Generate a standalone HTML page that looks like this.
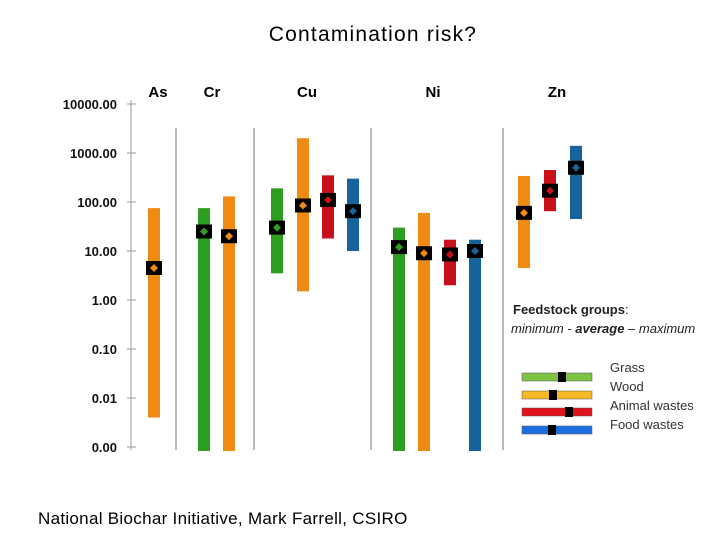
<!DOCTYPE html>
<html><head><meta charset="utf-8"><style>
body{margin:0;background:#fff;}
svg{display:block;font-family:"Liberation Sans",sans-serif;}
</style></head><body>
<svg id="c" width="720" height="540">
<text x="373" y="41" text-anchor="middle" font-size="21" letter-spacing="1.2">Contamination risk?</text>
<text x="38" y="524" font-size="17" letter-spacing="0.3">National Biochar Initiative, Mark Farrell, CSIRO</text>
<g id="axis"></g>
<g id="bars"></g>
<g>
<text x="513" y="314" font-size="13" font-weight="bold" fill="#222">Feedstock groups<tspan font-weight="normal">:</tspan></text>
<text x="511" y="333" font-size="13" font-style="italic" fill="#222">minimum - <tspan font-weight="bold">average</tspan> – maximum</text>
<rect x="522" y="373" width="70" height="8" fill="#7dc242" stroke="#555" stroke-width="0.5"/><rect x="558" y="372" width="8" height="10" fill="#000"/>
<rect x="522" y="391" width="70" height="8" fill="#f7b928" stroke="#555" stroke-width="0.5"/><rect x="549" y="390" width="8" height="10" fill="#000"/>
<rect x="522" y="408" width="70" height="8" fill="#e0121b" stroke="#555" stroke-width="0.5"/><rect x="565" y="407" width="8" height="10" fill="#000"/>
<rect x="522" y="426" width="70" height="8" fill="#1b6fe0" stroke="#555" stroke-width="0.5"/><rect x="548" y="425" width="8" height="10" fill="#000"/>
<g font-size="13" fill="#333"><text x="610" y="372">Grass</text><text x="610" y="391">Wood</text><text x="610" y="410">Animal wastes</text><text x="610" y="429">Food wastes</text></g>
</g>
</svg>
<script>
const ticks=[10000,1000,100,10,1,0.1,0.01,0.001];
const tickLabels=["10000.00","1000.00","100.00","10.00","1.00","0.10","0.01","0.00"];
const metals=["As","Cr","Cu","Ni","Zn"];
const barMetal=["As","Cr","Cr","Cu","Cu","Cu","Cu","Ni","Ni","Ni","Ni","Zn","Zn","Zn"];
const barGroup=["wood","grass","wood","grass","wood","animal","food","grass","wood","animal","food","wood","animal","food"];
const minVals=[0.004,0.0006,0.0006,3.5,1.5,18,10,0.0006,0.0006,2,0.0006,4.5,65,45];
const avgVals=[4.5,25,20,30,85,110,65,12,9,8.5,10,60,170,500];
const maxVals=[75,75,130,190,2000,350,300,30,60,17,17,340,450,1400];
const barX=[154,204,229,277,303,328,353,399,424,450,475,524,550,576];
const colors={grass:"#2e9e1f",wood:"#ef8a12",animal:"#c8101a",food:"#15649c"};
const y=v=>447-49*(Math.log10(v)+3);
const NS="http://www.w3.org/2000/svg";
function mk(p,t,a){const e=document.createElementNS(NS,t);for(const k in a)e.setAttribute(k,a[k]);p.appendChild(e);return e;}
const ax=document.getElementById('axis');
mk(ax,'line',{x1:131,y1:100,x2:131,y2:450,stroke:'#999'});
ticks.forEach((t,i)=>{
 mk(ax,'line',{x1:127,y1:y(t),x2:136,y2:y(t),stroke:'#999'});
 const tx=mk(ax,'text',{x:117,y:y(t)+5,'text-anchor':'end','font-size':13,'font-weight':'bold',fill:'#111'});
 
 
 tx.textContent=tickLabels[i];
});
[176,254,371,503].forEach(x=>mk(ax,'line',{x1:x,y1:128,x2:x,y2:450,stroke:'#bbb','stroke-width':2}));
const mx=[158,212,307,433,557];
metals.forEach((m,i)=>{const t=mk(ax,'text',{x:mx[i],y:97,'text-anchor':'middle','font-size':15,'font-weight':'bold'});
 
 
 t.textContent=m;});
const bg=document.getElementById('bars');
barMetal.forEach((m,i)=>{
 const top=y(maxVals[i]),bot=Math.min(451,y(minVals[i]));
 const r=mk(bg,'rect',{x:barX[i]-6,y:top,width:12,height:bot-top,fill:colors[barGroup[i]]});
 
 
 const ay=y(avgVals[i]);
 const b=mk(bg,'rect',{x:barX[i]-8,y:ay-7,width:16,height:14,fill:'#000'});
 
 
 mk(bg,'path',{d:`M${barX[i]} ${ay-4}L${barX[i]+4} ${ay}L${barX[i]} ${ay+4}L${barX[i]-4} ${ay}Z`,fill:colors[barGroup[i]]});
});
</script>
</body></html>
